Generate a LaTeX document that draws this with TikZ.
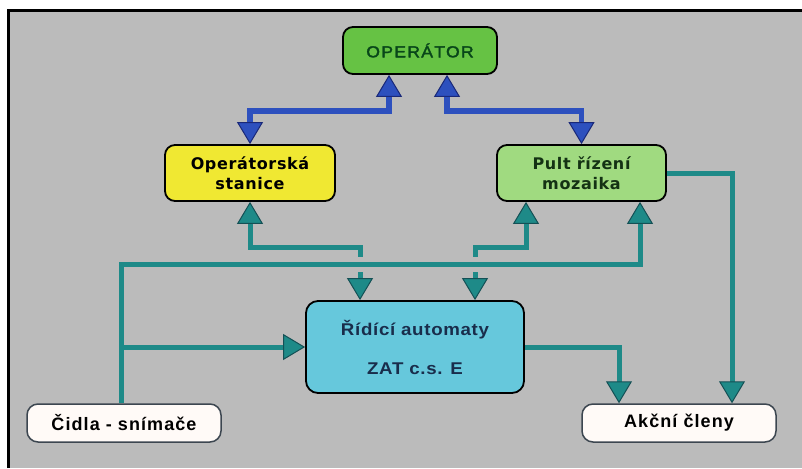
\documentclass[tikz,border=0pt]{standalone}
\usepackage{fontspec}
\setmainfont{Liberation Sans}
\usetikzlibrary{arrows.meta}
\newfontfamily\opfont{Liberation Sans}[FakeStretch=1.1,FakeBold=2,LetterSpace=8]
\newfontfamily\vfont{DejaVu Sans}[LetterSpace=4]
\newfontfamily\rfont{Liberation Sans}[FakeStretch=1.1,LetterSpace=4]
\newfontfamily\afont{Liberation Sans}[LetterSpace=6]
\definecolor{bg}{RGB}{187,187,187}
\definecolor{opgreen}{RGB}{102,194,68}
\definecolor{optext}{RGB}{8,70,25}
\definecolor{yel}{RGB}{240,232,50}
\definecolor{pultg}{RGB}{160,218,128}
\definecolor{pulttext}{RGB}{20,50,20}
\definecolor{cyanb}{RGB}{102,200,220}
\definecolor{rtext}{RGB}{25,45,75}
\definecolor{tealc}{RGB}{30,138,136}
\definecolor{teald}{RGB}{20,80,85}
\definecolor{bluec}{RGB}{45,80,190}
\definecolor{blued}{RGB}{25,40,120}
\definecolor{whitebox}{RGB}{255,250,247}
\definecolor{wborder}{RGB}{60,70,80}
\begin{document}
\begin{tikzpicture}[x=1pt,y=-1pt,
  box/.style={draw=black,line width=1.8pt,inner sep=0pt,align=center},
  wbox/.style={draw=wborder,line width=1.5pt,fill=whitebox,inner sep=0pt,align=center,
    minimum width=194pt,minimum height=38pt,rounded corners=11pt,
    font={\afont\bfseries\fontsize{18}{20}\selectfont}},
  Tt/.tip={Triangle[width=26pt,length=22pt,line width=1pt,fill=tealc,color=teald]},
  Tb/.tip={Triangle[width=26pt,length=22pt,line width=1pt,fill=bluec,color=blued]},
  tline/.style={draw=tealc,line width=5pt},
  bline/.style={draw=bluec,line width=5.5pt}]
\useasboundingbox (0,0) rectangle (802,468);
\fill[white] (0,0) rectangle (802,468);
\fill[bg] (10,12) rectangle (802,468);
\draw[black,line width=3pt] (8.5,468) -- (8.5,10.5) -- (802,10.5);

\node[box,fill=opgreen,minimum width=154pt,minimum height=47pt,rounded corners=10pt,
  text=optext,font={\opfont\fontsize{16}{18}\selectfont}] (op) at (420,50.5) {OPERÁTOR};
\node[box,fill=yel,minimum width=170pt,minimum height=56pt,rounded corners=10pt,
  text=black,font={\vfont\bfseries\fontsize{16}{20}\selectfont}] (st) at (250,173) {Operátorská\\stanice};
\node[box,fill=pultg,minimum width=169pt,minimum height=56pt,rounded corners=10pt,
  text=pulttext,font={\vfont\bfseries\fontsize{16}{20}\selectfont}] (pu) at (581.5,173) {Pult řízení\\mozaika};
\node[box,fill=cyanb,minimum width=218pt,minimum height=92pt,rounded corners=12pt,
  text=rtext,font={\rfont\bfseries\fontsize{17}{39}\selectfont}] (ri) at (415,347) {Řídící automaty\\ZAT c.s. E};
\node[wbox] (ci) at (124,423) {Čidla - snímače};
\node[wbox] (ak) at (679,423) {Akční členy};

% blue connectors
\coordinate (b1) at (389,111);
\coordinate (b2) at (447,111);
\draw[bline,{Tb}-{Tb}] (st.north) |- (b1) -- (b1 |- op.south);
\draw[bline,{Tb}-{Tb}] (pu.north) |- (b2) -- (b2 |- op.south);

% teal connectors
\coordinate (t1) at (360,247);
\coordinate (g1a) at (360,257);
\coordinate (g1b) at (360,272);
\draw[tline,{Tt}-] (st.south) |- (t1) -- (g1a);
\draw[tline,-{Tt}] (g1b) -- (g1b |- ri.north);

\coordinate (t2) at (526,247);
\coordinate (t3) at (475,247);
\coordinate (g2a) at (475,257);
\coordinate (g2b) at (475,272);
\draw[tline,{Tt}-] (t2 |- pu.south) -- (t2) -- (t3) -- (g2a);
\draw[tline,-{Tt}] (g2b) -- (g2b |- ri.north);

\coordinate (c1) at (121,264);
\coordinate (c2) at (640,264);
\draw[tline,-{Tt}] (ci.north -| c1) -- (c1) -- (c2) -- (c2 |- pu.south);

\coordinate (c3) at (121,347);
\draw[tline,-{Tt}] (c3) -- (ri.west);

\coordinate (c4) at (619,347);
\draw[tline,-{Tt}] (ri.east) -- (c4) -- (c4 |- ak.north);

\coordinate (c5) at (732,173);
\draw[tline,-{Tt}] (pu.east) -- (c5) -- (c5 |- ak.north);
\end{tikzpicture}
\end{document}
